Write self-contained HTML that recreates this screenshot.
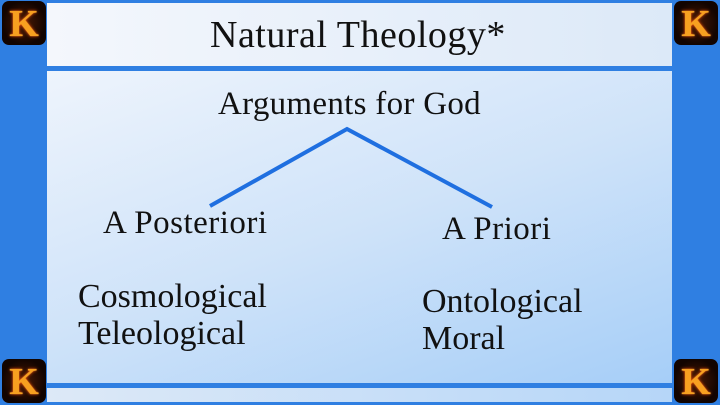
<!DOCTYPE html>
<html><head><style>
body{margin:0;width:720px;height:405px;overflow:hidden;background:#2f7fe2;position:relative;font-family:"Liberation Serif",serif;color:#111}
.p{position:absolute;left:47px;width:625px}
.t{position:absolute;white-space:nowrap}
.k{position:absolute;width:44px;height:44px;border-radius:7px;background:radial-gradient(circle,#4a1a05,#120400 70%);color:#f7a020;font:bold 38px "Liberation Serif",serif;text-align:center;line-height:46px;text-shadow:0 0 3px #ff5000,0 0 1px #ffe070}
</style></head><body>
<div class="p" style="top:3px;height:63px;background:linear-gradient(90deg,#f4f7fc,#dce9f8)"></div>
<div class="p" style="top:71px;height:312px;background:linear-gradient(160deg,#eef4fc 0%,#cfe3f9 50%,#a6cef8 100%)"></div>
<div class="p" style="top:388px;height:14px;background:linear-gradient(90deg,#dde9f7,#b6d6f8)"></div>
<div class="k" style="left:2px;top:1px">K</div>
<div class="k" style="left:674px;top:1px">K</div>
<div class="k" style="left:2px;top:359px">K</div>
<div class="k" style="left:674px;top:359px">K</div>
<svg style="position:absolute;left:0;top:0" width="720" height="405"><polyline points="210,206 347,129 492,207" fill="none" stroke="#1f6fe0" stroke-width="4"/></svg>
<div class="t" style="left:210px;top:13px;font-size:38px;letter-spacing:0.5px">Natural Theology*</div>
<div class="t" style="left:218px;top:86px;font-size:33px;letter-spacing:0.3px">Arguments for God</div>
<div class="t" style="left:103px;top:205px;font-size:33px;letter-spacing:0.5px">A Posteriori</div>
<div class="t" style="left:442px;top:211px;font-size:33px;letter-spacing:0.5px">A Priori</div>
<div class="t" style="left:78px;top:278px;font-size:34px;line-height:37px">Cosmological<br>Teleological</div>
<div class="t" style="left:422px;top:283px;font-size:34px;line-height:37px">Ontological<br>Moral</div>
</body></html>
